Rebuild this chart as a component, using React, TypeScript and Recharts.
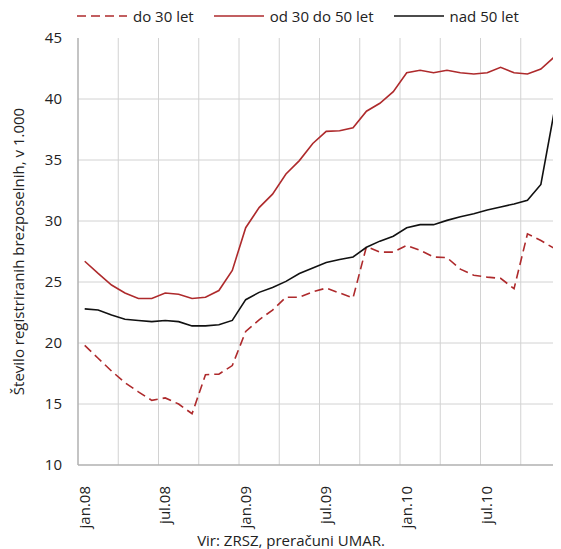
import React from 'react';
import { LineChart, Line, XAxis, YAxis, ReferenceLine } from 'recharts';

const seriesNames = ['do 30 let', 'od 30 do 50 let', 'nad 50 let'];
const tickLabels = ['jan.08', 'jul.08', 'jan.09', 'jul.09', 'jan.10', 'jul.10'];
const tickIndex = [0, 6, 12, 18, 24, 30];
const gridIndex = [2.5, 5.5, 8.5, 11.5, 14.5, 17.5, 20.5, 23.5, 26.5, 29.5, 32.5];
const yTicks = [10, 15, 20, 25, 30, 35, 40, 45];
const yGrid = [15, 20, 25, 30, 35, 40];

const do30 = [19.8, 18.75, 17.7, 16.75, 16.0, 15.3, 15.5, 15.0, 14.2, 17.4, 17.45, 18.15, 20.95, 21.9, 22.7, 23.75, 23.75, 24.2, 24.5, 24.1, 23.7, 27.9, 27.45, 27.45, 28.0, 27.6, 27.05, 27.0, 26.05, 25.55, 25.4, 25.3, 24.45, 28.95, 28.4, 27.75];
const od30do50 = [26.7, 25.7, 24.75, 24.1, 23.65, 23.65, 24.1, 24.0, 23.65, 23.75, 24.3, 25.95, 29.45, 31.1, 32.2, 33.85, 34.95, 36.35, 37.35, 37.4, 37.65, 39.0, 39.65, 40.6, 42.15, 42.35, 42.15, 42.35, 42.15, 42.05, 42.15, 42.6, 42.15, 42.05, 42.45, 43.45];
const nad50 = [22.8, 22.7, 22.3, 21.95, 21.85, 21.75, 21.85, 21.75, 21.4, 21.4, 21.5, 21.85, 23.55, 24.15, 24.55, 25.05, 25.7, 26.15, 26.6, 26.85, 27.05, 27.85, 28.35, 28.75, 29.45, 29.7, 29.7, 30.05, 30.35, 30.6, 30.9, 31.15, 31.4, 31.7, 33.0, 39.0];

const data = do30.map((v, i) => ({ i, a: v, b: od30do50[i], c: nad50[i] }));

const RED = '#AE2A2C';
const BLACK = '#111111';
const FONT = "'Open Sans', sans-serif";
const GRID = '#d2d2d2';
const BORDER = '#b0b0b0';

const XTick = (props: any) => {
  const { x, y, payload } = props;
  const idx = tickIndex.indexOf(payload.value);
  return (
    <g transform={`translate(${x},${y})`}>
      <text transform="rotate(-90)" x={-13} y={0} dy="0.35em" textAnchor="end" fontSize={15} fill="#222" fontFamily={FONT}>
        {tickLabels[idx]}
      </text>
    </g>
  );
};

const legendItems = [
  { name: seriesNames[0], color: RED, dash: '9 5' },
  { name: seriesNames[1], color: RED, dash: undefined },
  { name: seriesNames[2], color: BLACK, dash: undefined },
];

export default function App() {
  return (
    <div style={{ position: 'relative', width: 553, height: 541, fontFamily: FONT }}>
      <div style={{ position: 'absolute', top: -2, left: 69, display: 'flex', alignItems: 'center', fontSize: 15, color: '#222', whiteSpace: 'nowrap' }}>
        {legendItems.map((it, k) => (
          <div key={k} style={{ display: 'flex', alignItems: 'center', marginRight: 20 }}>
            <svg width={50} height={14} style={{ marginRight: 6 }}>
              <line x1={0} y1={7} x2={50} y2={7} stroke={it.color} strokeWidth={1.6} strokeDasharray={it.dash} />
            </svg>
            <span>{it.name}</span>
          </div>
        ))}
      </div>
      <LineChart width={553} height={541} data={data} margin={{ top: 30, right: 0, left: 0, bottom: 0 }}>
        {yGrid.map((g) => (
          <ReferenceLine key={`h${g}`} xAxisId="lab" y={g} stroke={GRID} strokeWidth={1} />
        ))}
        {gridIndex.map((g) => (
          <ReferenceLine key={`v${g}`} xAxisId="lab" x={g} stroke={GRID} strokeWidth={1} />
        ))}
        <XAxis xAxisId="top" orientation="top" type="number" dataKey="i" domain={[-0.5, 35.5]} tick={false} tickLine={false} axisLine={{ stroke: BORDER, strokeWidth: 1.5 }} height={0} />
        <XAxis xAxisId="lab" type="number" dataKey="i" domain={[-0.5, 35.5]} ticks={tickIndex} tick={<XTick />} tickLine={false} axisLine={{ stroke: BORDER, strokeWidth: 1.5 }} height={84} interval={0} />
        <YAxis domain={[10, 45]} ticks={yTicks} width={70} tickLine={false} axisLine={{ stroke: BORDER, strokeWidth: 1.5 }} tickMargin={10} tick={{ fontSize: 15, fill: '#222', fontFamily: FONT }}
          label={{ value: 'Število registriranih brezposelnih, v 1.000', angle: -90, position: 'center', dx: -24, fontSize: 15, fill: '#222', fontFamily: FONT }} />
        <Line xAxisId="lab" dataKey="a" name={seriesNames[0]} stroke={RED} strokeWidth={1.6} strokeDasharray="9 5" dot={false} isAnimationActive={false} />
        <Line xAxisId="lab" dataKey="b" name={seriesNames[1]} stroke={RED} strokeWidth={1.6} dot={false} isAnimationActive={false} />
        <Line xAxisId="lab" dataKey="c" name={seriesNames[2]} stroke={BLACK} strokeWidth={1.6} dot={false} isAnimationActive={false} />
      </LineChart>
      <div style={{ position: 'absolute', top: 522, left: 83, width: 400, textAlign: 'center', fontSize: 15, color: '#222' }}>
        Vir: ZRSZ, preračuni UMAR.
      </div>
    </div>
  );
}
